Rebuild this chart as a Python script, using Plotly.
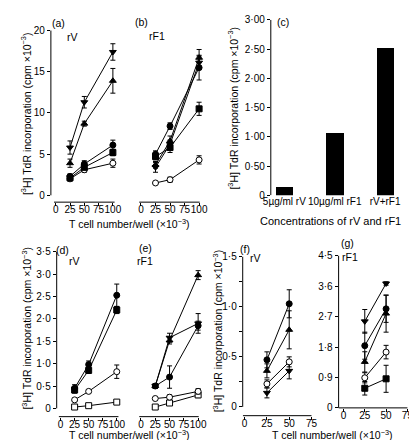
import plotly.graph_objects as go

W, H = 417, 440
FONT = "Liberation Sans, Arial, sans-serif"

# ---------------- data ----------------
cells = [25, 50, 100]
cells_fg = [25, 50]
x_ticks = [0, 25, 50, 75, 100]
x_ticks_fg = [0, 25, 50, 75]

# (a) rV
a_tdown = [5.8, 11.3, 17.4]; a_tdown_err = [0.8, 0.7, 1.0]
a_tup = [3.9, 8.7, 13.9]; a_tup_err = [0.5, 0.3, 1.5]
a_circ = [2.3, 3.8, 6.1]; a_circ_err = [0.3, 0.4, 0.6]
a_sq = [2.1, 3.4, 5.2]; a_sq_err = [0.3, 0.3, 0.4]
a_ocirc = [2.0, 3.1, 3.9]; a_ocirc_err = [0.2, 0.3, 0.5]

# (b) rF1
b_circ = [5.0, 8.4, 15.5]; b_circ_err = [0.4, 0.4, 1.5]
b_sq = [4.7, 5.8, 10.5]; b_sq_err = [0.4, 0.6, 0.8]
b_tup = [3.7, 6.6, 16.7]; b_tup_err = [0.4, 0.6, 1.0]
b_tdown = [3.4, 6.2, 16.1]; b_tdown_err = [0.6, 0.5, 0.8]
b_ocirc = [1.5, 1.9, 4.3]; b_ocirc_err = [0.1, 0.3, 0.5]

# (c) bars
c_labels = ["5µg/ml rV", "10µg/ml rF1", "rV+rF1"]
c_values = [0.15, 1.06, 2.52]

# (d) rV
d_circ = [0.45, 0.98, 2.53]; d_circ_err = [0.08, 0.08, 0.25]
d_sq = [0.41, 0.85, 2.20]; d_sq_err = [0.07, 0.07, 0.08]
d_ocirc = [0.19, 0.38, 0.82]; d_ocirc_err = [0.03, 0.03, 0.15]
d_osq = [0.03, 0.06, 0.14]; d_osq_err = [0.01, 0.01, 0.02]

# (e) rF1
e_tup = [0.50, 1.52, 2.98]; e_tup_err = [0.05, 0.08, 0.10]
e_tdown = [0.50, 1.58, 1.90]; e_tdown_err = [0.05, 0.10, 0.22]
e_circ = [0.50, 0.70, 1.85]; e_circ_err = [0.05, 0.25, 0.10]
e_ocirc = [0.22, 0.25, 0.38]; e_ocirc_err = [0.02, 0.05, 0.06]
e_osq = [0.03, 0.12, 0.30]; e_osq_err = [0.01, 0.03, 0.06]

# (f) rV
f_circ = [0.47, 1.03]; f_circ_err = [0.08, 0.14]
f_tup = [0.36, 0.77]; f_tup_err = [0.07, 0.19]
f_ocirc = [0.23, 0.45]; f_ocirc_err = [0.04, 0.05]
f_tdown = [0.14, 0.36]; f_tdown_err = [0.05, 0.08]

# (g) rF1
g_tdown = [2.56, 3.68]; g_tdown_err = [0.35, 0.05]
g_circ = [1.84, 2.93]; g_circ_err = [0.40, 0.40]
g_tup = [1.36, 2.79]; g_tup_err = [0.30, 0.55]
g_ocirc = [0.89, 1.65]; g_ocirc_err = [0.15, 0.20]
g_sq = [0.58, 0.86]; g_sq_err = [0.20, 0.40]

y_title = "[<sup>3</sup>H] TdR incorporation (cpm ×10<sup>−3</sup>)"
x_title = "T cell number/well (×10<sup>−3</sup>)"

# ---------------- layout helpers ----------------
def rng(d0, d1, v0, p0, v1, p1):
    s = (v1 - v0) / (p1 - p0)
    return [v0 + (d0 - p0) * s, v0 + (d1 - p0) * s]

panels = {
    1: dict(xd=(36, 104), xa=(0, 41, 100, 100), yd=(15, 194), ya=(0, 187, 20, 18)),
    2: dict(xd=(124, 193), xa=(0, 129, 100, 189), yd=(15, 194), ya=(0, 187, 20, 18)),
    3: dict(xd=(263, 408), xa=(0, 277, 1, 329), yd=(7, 187), ya=(0, 187, 3, 7)),
    4: dict(xd=(42, 109), xa=(0, 46, 100, 104), yd=(243, 414), ya=(0, 405.5, 3.5, 245)),
    5: dict(xd=(123, 192), xa=(0, 129, 100, 188), yd=(243, 414), ya=(0, 405.5, 3.5, 245)),
    6: dict(xd=(234, 310), xa=(0, 236, 75, 305), yd=(248, 413), ya=(0, 404, 1.5, 250)),
    7: dict(xd=(333, 410), xa=(0, 338, 75, 404), yd=(247, 405), ya=(0, 405, 4.5, 249)),
}

fig = go.Figure()

def nm(ax, i):
    return ax if i == 1 else f"{ax}{i}"

SYM = {
    "circ": ("circle", "black"), "sq": ("square", "black"),
    "ocirc": ("circle", "white"), "osq": ("square", "white"),
    "tup": ("triangle-up", "black"), "tdown": ("triangle-down", "black"),
}

def add_series(i, xs, ys, err, kind):
    sym, fill = SYM[kind]
    fig.add_trace(go.Scatter(
        x=xs, y=ys, mode="lines+markers",
        line=dict(color="black", width=1),
        marker=dict(symbol=sym, size=6, color=fill,
                    line=dict(color="black", width=1)),
        error_y=dict(type="data", array=err, visible=True, color="black",
                     thickness=1, width=2.5),
        xaxis=nm("x", i), yaxis=nm("y", i), showlegend=False, cliponaxis=False))

for ys, e, k in [(a_ocirc, a_ocirc_err, "ocirc"), (a_sq, a_sq_err, "sq"), (a_circ, a_circ_err, "circ"),
                 (a_tup, a_tup_err, "tup"), (a_tdown, a_tdown_err, "tdown")]:
    add_series(1, cells, ys, e, k)
for ys, e, k in [(b_ocirc, b_ocirc_err, "ocirc"), (b_sq, b_sq_err, "sq"), (b_circ, b_circ_err, "circ"),
                 (b_tdown, b_tdown_err, "tdown"), (b_tup, b_tup_err, "tup")]:
    add_series(2, cells, ys, e, k)
for ys, e, k in [(d_osq, d_osq_err, "osq"), (d_ocirc, d_ocirc_err, "ocirc"), (d_sq, d_sq_err, "sq"),
                 (d_circ, d_circ_err, "circ")]:
    add_series(4, cells, ys, e, k)
for ys, e, k in [(e_osq, e_osq_err, "osq"), (e_ocirc, e_ocirc_err, "ocirc"), (e_circ, e_circ_err, "circ"),
                 (e_tdown, e_tdown_err, "tdown"), (e_tup, e_tup_err, "tup")]:
    add_series(5, cells, ys, e, k)
for ys, e, k in [(f_tdown, f_tdown_err, "tdown"), (f_ocirc, f_ocirc_err, "ocirc"), (f_tup, f_tup_err, "tup"),
                 (f_circ, f_circ_err, "circ")]:
    add_series(6, cells_fg, ys, e, k)
for ys, e, k in [(g_sq, g_sq_err, "sq"), (g_ocirc, g_ocirc_err, "ocirc"), (g_tup, g_tup_err, "tup"),
                 (g_circ, g_circ_err, "circ"), (g_tdown, g_tdown_err, "tdown")]:
    add_series(7, cells_fg, ys, e, k)

fig.add_trace(go.Bar(x=list(range(len(c_labels))), y=c_values, width=0.35,
                     marker=dict(color="black", line=dict(width=0)),
                     xaxis="x3", yaxis="y3", showlegend=False))

def dot(v, nd):
    return "0" if v == 0 else f"{v:.{nd}f}".replace(".", "·")

tickfont = dict(family=FONT, size=10, color="black")
layout = {}
for i, p in panels.items():
    xr = rng(p["xd"][0], p["xd"][1], *p["xa"])
    yr = rng(p["yd"][1], p["yd"][0], *p["ya"])
    xax = dict(domain=[p["xd"][0] / W, p["xd"][1] / W], range=xr, anchor=nm("y", i),
               showgrid=False, zeroline=False, showline=False, tickfont=tickfont,
               ticks="outside", ticklen=3, tickwidth=1, tickcolor="black", tickangle=0,
               ticklabelstandoff=-5)
    yax = dict(domain=[1 - p["yd"][1] / H, 1 - p["yd"][0] / H], range=yr, anchor=nm("x", i),
               showgrid=False, zeroline=False, showline=False, tickfont=tickfont,
               ticks="outside", ticklen=3, tickwidth=1, tickcolor="black", tickangle=0)
    layout[nm("xaxis", i)] = xax
    layout[nm("yaxis", i)] = yax

for i in (1, 2, 4, 5):
    layout[nm("xaxis", i)].update(tickvals=x_ticks, ticktext=[str(v) for v in x_ticks])
for i in (6, 7):
    layout[nm("xaxis", i)].update(tickvals=x_ticks_fg, ticktext=[str(v) for v in x_ticks_fg])
layout["xaxis3"].update(tickvals=list(range(len(c_labels))), ticktext=c_labels, ticks="",
                        ticklabelstandoff=-1,
                        tickfont=dict(family=FONT, size=10, color="black"))

yt_a = [0, 5, 10, 15, 20]
layout["yaxis"].update(tickvals=yt_a, ticktext=[str(v) for v in yt_a])
yt_c = [0, 0.5, 1.0, 1.5, 2.0, 2.5, 3.0]
layout["yaxis3"].update(tickvals=yt_c, ticktext=[dot(v, 2) for v in yt_c])
yt_d = [0, 0.5, 1.0, 1.5, 2.0, 2.5, 3.0, 3.5]
layout["yaxis4"].update(tickvals=yt_d, ticktext=[dot(v, 1) for v in yt_d])
yt_f = [0, 0.25, 0.5, 0.75, 1.0, 1.25, 1.5]
layout["yaxis6"].update(tickvals=yt_f, ticktext=[dot(v, 1) if (v * 2) % 1 == 0 else " " for v in yt_f])
yt_g = [0, 0.9, 1.8, 2.7, 3.6, 4.5]
layout["yaxis7"].update(tickvals=yt_g, ticktext=[dot(v, 1) for v in yt_g])
for i in (2, 5):
    layout[nm("yaxis", i)].update(showticklabels=False, ticks="")

shapes = []
def yline(i, y0, y1):
    shapes.append(dict(type="line", xref=nm("x", i) + " domain", yref=nm("y", i),
                       x0=0, x1=0, y0=y0, y1=y1, line=dict(color="black", width=1)))
def xline(i, x0, x1):
    shapes.append(dict(type="line", xref=nm("x", i), yref=nm("y", i) + " domain",
                       x0=x0, x1=x1, y0=0, y1=0, line=dict(color="black", width=1)))
yline(1, 0, 20); xline(1, -3, 103)
xline(2, -3, 101)
yline(3, 0, 3)
yline(4, 0, 3.5); xline(4, -3, 103)
xline(5, -3, 101)
yline(6, 0, 1.5); xline(6, -2, 75)
yline(7, 0, 4.5); xline(7, -6, 75)

ann = []
def txt(x, y, s, size=10.5, angle=0, xanchor="center"):
    ann.append(dict(text=s, x=x / W, y=1 - y / H, xref="paper", yref="paper",
                    showarrow=False, textangle=angle, xanchor=xanchor, yanchor="middle",
                    font=dict(family=FONT, size=size, color="black")))

txt(44, 10, "(a)"); txt(58, 25, "rV")
txt(130, 9, "(b)"); txt(146, 24, "rF1")
txt(276, 9, "(c)")
txt(48, 243, "(d)"); txt(60, 254, "rV")
txt(134, 241, "(e)"); txt(133, 254, "rF1")
txt(236, 242, "(f)"); txt(247, 251, "rV")
txt(342, 236, "(g)"); txt(345, 250, "rF1")

txt(10, 103, y_title, size=10.5, angle=-90)
txt(224, 98, y_title, size=10.5, angle=-90)
txt(11, 323, y_title, size=10.5, angle=-90)
txt(208, 326, y_title, size=10.5, angle=-90)

txt(117, 216, x_title, size=10.5)
txt(325, 213, "Concentrations of rV and rF1", size=11)
txt(117, 432, x_title, size=10.5)
txt(327, 432, x_title, size=10.5)

fig.update_layout(width=W, height=H, margin=dict(l=0, r=0, t=0, b=0),
                  paper_bgcolor="white", plot_bgcolor="white",
                  shapes=shapes, annotations=ann, bargap=0, **layout)

fig.write_html("out.html")
